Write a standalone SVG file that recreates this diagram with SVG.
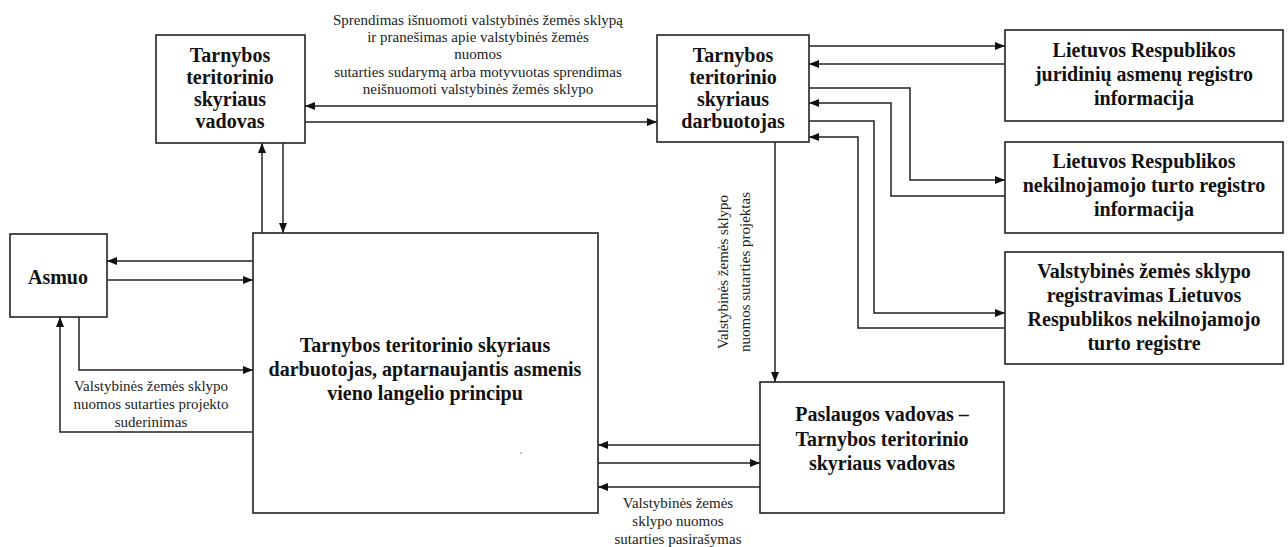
<svg xmlns="http://www.w3.org/2000/svg" width="1288" height="547" viewBox="0 0 1288 547">
<style>
.box{fill:#fff;stroke:#222;stroke-width:1.6}
.b{font-family:"Liberation Serif",serif;font-weight:bold;font-size:20px;fill:#111;text-anchor:middle}
.s{font-family:"Liberation Serif",serif;font-size:15px;fill:#222;text-anchor:middle}
.c{fill:none;stroke:#222;stroke-width:1.5}
</style>
<defs>
<marker id="a" viewBox="0 0 10 10" refX="10" refY="5" markerWidth="10" markerHeight="10" markerUnits="userSpaceOnUse" orient="auto">
<path d="M0,1 L10,5 L0,9 z" fill="#111"/>
</marker>
</defs>
<rect width="1288" height="547" fill="#fff"/>
<g id="connectors">
<path class="c" d="M657,106 H305" marker-end="url(#a)"/>
<path class="c" d="M305,122 H657" marker-end="url(#a)"/>
<path class="c" d="M262,233 V143" marker-end="url(#a)"/>
<path class="c" d="M283,143 V233" marker-end="url(#a)"/>
<path class="c" d="M253,261 H107" marker-end="url(#a)"/>
<path class="c" d="M107,280 H253" marker-end="url(#a)"/>
<path class="c" d="M79,317 V370 H253" marker-end="url(#a)"/>
<path class="c" d="M253,432 H60 V317" marker-end="url(#a)"/>
<path class="c" d="M775,142 V382" marker-end="url(#a)"/>
<path class="c" d="M760,445 H598" marker-end="url(#a)"/>
<path class="c" d="M598,463 H760" marker-end="url(#a)"/>
<path class="c" d="M760,487 H598" marker-end="url(#a)"/>
<path class="c" d="M809,46 H1005" marker-end="url(#a)"/>
<path class="c" d="M1005,64 H809" marker-end="url(#a)"/>
<path class="c" d="M809,88 H910 V180 H1005" marker-end="url(#a)"/>
<path class="c" d="M1005,196 H891 V103 H809" marker-end="url(#a)"/>
<path class="c" d="M809,121 H874 V313 H1005" marker-end="url(#a)"/>
<path class="c" d="M1005,328 H858 V137 H809" marker-end="url(#a)"/>
<text class="s"><tspan x="478" y="25">Sprendimas išnuomoti valstybinės žemės sklypą</tspan><tspan x="478" y="42">ir pranešimas apie valstybinės žemės</tspan><tspan x="478" y="59">nuomos</tspan><tspan x="478" y="77">sutarties sudarymą arba motyvuotas sprendimas</tspan><tspan x="478" y="94">neišnuomoti valstybinės žemės sklypo</tspan></text>
<text class="s"><tspan x="151" y="391">Valstybinės žemės sklypo</tspan><tspan x="151" y="409">nuomos sutarties projekto</tspan><tspan x="151" y="427">suderinimas</tspan></text>
<text class="s"><tspan x="678" y="508">Valstybinės žemės</tspan><tspan x="678" y="526">sklypo nuomos</tspan><tspan x="678" y="544">sutarties pasirašymas</tspan></text>
<text class="s" transform="translate(728,272) rotate(-90)"><tspan x="0" y="0">Valstybinės žemės sklypo</tspan><tspan x="0" y="22">nuomos sutarties projektas</tspan></text>
</g>
<g id="vadovas">
<rect class="box" x="156" y="35" width="149" height="108"/>
<text class="b"><tspan x="230" y="62">Tarnybos</tspan><tspan x="230" y="84">teritorinio</tspan><tspan x="230" y="106">skyriaus</tspan><tspan x="230" y="128">vadovas</tspan></text>
</g>
<g id="darbuotojas">
<rect class="box" x="657" y="35" width="152" height="107"/>
<text class="b"><tspan x="733" y="62">Tarnybos</tspan><tspan x="733" y="84">teritorinio</tspan><tspan x="733" y="106">skyriaus</tspan><tspan x="733" y="128">darbuotojas</tspan></text>
</g>
<g id="juridiniu">
<rect class="box" x="1005" y="30" width="278" height="91"/>
<text class="b"><tspan x="1144" y="57">Lietuvos Respublikos</tspan><tspan x="1144" y="81">juridinių asmenų registro</tspan><tspan x="1144" y="105">informacija</tspan></text>
</g>
<g id="nekilnojamojo">
<rect class="box" x="1005" y="142" width="278" height="91"/>
<text class="b"><tspan x="1144" y="168">Lietuvos Respublikos</tspan><tspan x="1144" y="192">nekilnojamojo turto registro</tspan><tspan x="1144" y="216">informacija</tspan></text>
</g>
<g id="registravimas">
<rect class="box" x="1005" y="252" width="278" height="112"/>
<text class="b"><tspan x="1144" y="278">Valstybinės žemės sklypo</tspan><tspan x="1144" y="302">registravimas Lietuvos</tspan><tspan x="1144" y="326">Respublikos nekilnojamojo</tspan><tspan x="1144" y="350">turto registre</tspan></text>
</g>
<g id="asmuo">
<rect class="box" x="10" y="234" width="97" height="83"/>
<text class="b" x="58" y="284">Asmuo</text>
</g>
<g id="vieno-langelio">
<rect class="box" x="253" y="233" width="345" height="280"/>
<text class="b"><tspan x="425" y="352">Tarnybos teritorinio skyriaus</tspan><tspan x="425" y="376">darbuotojas, aptarnaujantis asmenis</tspan><tspan x="425" y="400">vieno langelio principu</tspan></text>
<circle cx="521" cy="453" r="0.7" fill="#555"/>
</g>
<g id="paslaugos">
<rect class="box" x="760" y="382" width="244" height="131"/>
<text class="b"><tspan x="882" y="421">Paslaugos vadovas –</tspan><tspan x="882" y="446">Tarnybos teritorinio</tspan><tspan x="882" y="470">skyriaus vadovas</tspan></text>
</g>
</svg>
